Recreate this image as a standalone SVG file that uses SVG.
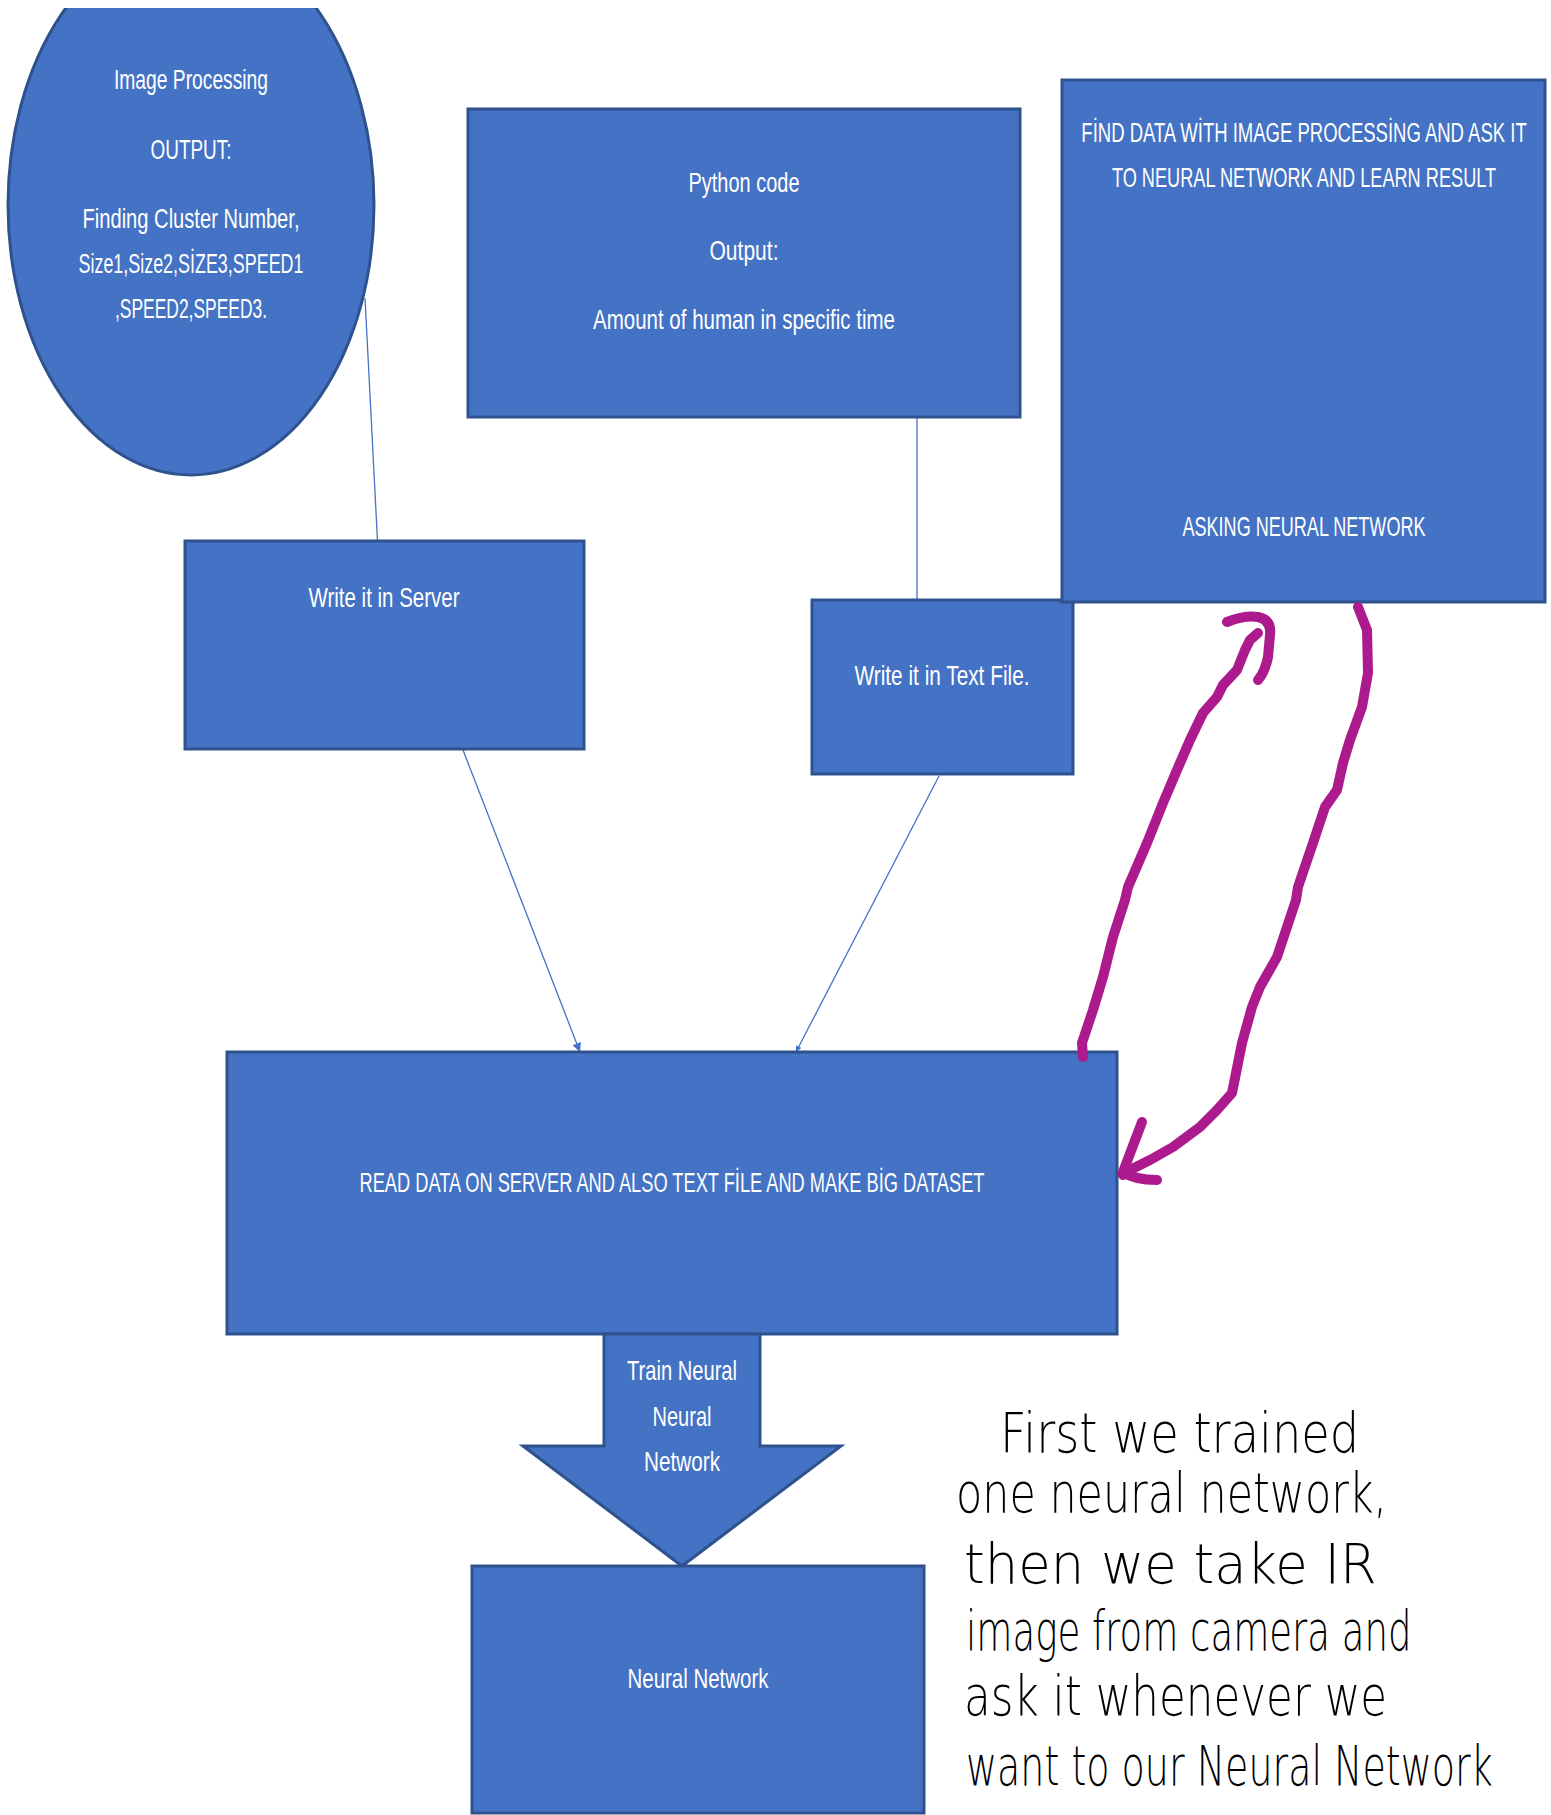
<svg xmlns="http://www.w3.org/2000/svg" width="1551" height="1815" viewBox="0 0 1551 1815">
<style>
.box{fill:#4472C4;stroke:#2F528F;stroke-width:3}
.t{font-family:"Liberation Sans",Arial,sans-serif;font-size:28px;fill:#FFFFFF;text-anchor:middle}
.conn{fill:none;stroke:#4472C4;stroke-width:1.3}
.ink{fill:none;stroke:#AD1A8D;stroke-width:10;stroke-linecap:round;stroke-linejoin:round}
.hw{font-family:"DejaVu Sans","Liberation Sans",sans-serif;font-weight:200;font-size:56px;fill:#000000}
</style>
<defs>
<clipPath id="clipTop"><rect x="0" y="8" width="1551" height="1807"/></clipPath>
<marker id="ah" viewBox="0 0 10 10" refX="10" refY="5" markerWidth="12" markerHeight="9" markerUnits="userSpaceOnUse" orient="auto"><path d="M0,0 L10,5 L0,10 z" fill="#4472C4"/></marker>
<marker id="ahs" viewBox="0 0 10 10" refX="10" refY="5" markerWidth="7" markerHeight="6" markerUnits="userSpaceOnUse" orient="auto"><path d="M0,0 L10,5 L0,10 z" fill="#4472C4"/></marker>
</defs>
<rect x="0" y="0" width="1551" height="1815" fill="#FFFFFF"/>

<g id="connectors">
<line class="conn" x1="365" y1="298" x2="377.5" y2="541"/>
<line class="conn" x1="917" y1="418" x2="917" y2="600"/>
<line class="conn" x1="463" y1="750" x2="580" y2="1052" marker-end="url(#ah)"/>
<line class="conn" x1="939" y1="776" x2="796" y2="1052" marker-end="url(#ahs)"/>
</g>

<g id="image-processing" clip-path="url(#clipTop)">
<ellipse class="box" cx="191" cy="205" rx="183" ry="270"/>
<text class="t" x="191" y="89" textLength="154" lengthAdjust="spacingAndGlyphs">Image Processing</text>
<text class="t" x="191" y="159" textLength="81" lengthAdjust="spacingAndGlyphs">OUTPUT:</text>
<text class="t" x="191" y="228" textLength="217" lengthAdjust="spacingAndGlyphs">Finding Cluster Number,</text>
<text class="t" x="191" y="273" textLength="225" lengthAdjust="spacingAndGlyphs">Size1,Size2,SİZE3,SPEED1</text>
<text class="t" x="191" y="318" textLength="152" lengthAdjust="spacingAndGlyphs">,SPEED2,SPEED3.</text>
</g>

<g id="python-code">
<rect class="box" x="468" y="109" width="552" height="308"/>
<text class="t" x="744" y="192" textLength="111" lengthAdjust="spacingAndGlyphs">Python code</text>
<text class="t" x="744" y="260" textLength="69" lengthAdjust="spacingAndGlyphs">Output:</text>
<text class="t" x="744" y="329" textLength="302" lengthAdjust="spacingAndGlyphs">Amount of human in specific time</text>
</g>

<g id="write-server">
<rect class="box" x="185" y="541" width="399" height="208"/>
<text class="t" x="384" y="607" textLength="151" lengthAdjust="spacingAndGlyphs">Write it in Server</text>
</g>

<g id="write-text-file">
<rect class="box" x="812" y="600" width="261" height="174"/>
<text class="t" x="942" y="685" textLength="175" lengthAdjust="spacingAndGlyphs">Write it in Text File.</text>
</g>

<g id="asking-neural-network">
<rect class="box" x="1062" y="80" width="483" height="522"/>
<text class="t" transform="translate(1304,142) scale(0.661,1)" x="0" y="0">FİND DATA WİTH IMAGE PROCESSİNG AND ASK IT</text>
<text class="t" transform="translate(1304,187) scale(0.649,1)" x="0" y="0">TO NEURAL NETWORK AND LEARN RESULT</text>
<text class="t" transform="translate(1304,536) scale(0.645,1)" x="0" y="0">ASKING NEURAL NETWORK</text>
</g>

<g id="read-data">
<rect class="box" x="227" y="1052" width="890" height="282"/>
<text class="t" x="672" y="1192" textLength="625" lengthAdjust="spacingAndGlyphs">READ DATA ON SERVER AND ALSO TEXT FİLE AND MAKE BİG DATASET</text>
</g>

<g id="train-arrow">
<path class="box" d="M604,1334 L760,1334 L760,1446 L841,1446 L682,1566 L523,1446 L604,1446 Z"/>
<text class="t" x="682" y="1380" textLength="110" lengthAdjust="spacingAndGlyphs">Train Neural</text>
<text class="t" x="682" y="1426" textLength="59" lengthAdjust="spacingAndGlyphs">Neural</text>
<text class="t" x="682" y="1471" textLength="76" lengthAdjust="spacingAndGlyphs">Network</text>
</g>

<g id="neural-network">
<rect class="box" x="472" y="1566" width="452" height="247"/>
<text class="t" x="698" y="1688" textLength="141" lengthAdjust="spacingAndGlyphs">Neural Network</text>
</g>

<g id="ink-arrows">
<polyline class="ink" points="1083,1057 1082,1043 1093,1010 1103,977 1113,937 1125,900 1128,887 1147,843 1163,803 1177,770 1190,740 1203,713 1217,697 1223,685 1237,670 1245,650 1250,640 1258,633"/>
<path class="ink" d="M1227,622 Q1245,615 1258,617 Q1272,620 1270,635 L1268,657 Q1265,672 1258,680"/>
<polyline class="ink" points="1358,607 1367,630 1368,673 1362,707 1350,740 1343,763 1337,790 1325,807 1313,843 1298,887 1296,900 1277,957 1260,987 1252,1007 1242,1043 1232,1093 1217,1110 1200,1127 1173,1147 1150,1160 1130,1170 1123,1175"/>
<path class="ink" d="M1142,1122 L1123,1172 Q1135,1180 1157,1180"/>
</g>

<g id="handwritten-note">
<text class="hw" transform="translate(1000,1452) scale(0.8,1)" x="0" y="0" textLength="449" lengthAdjust="spacingAndGlyphs">First we trained</text>
<text class="hw" transform="translate(956,1512) scale(0.8,1)" x="0" y="0" textLength="539" lengthAdjust="spacingAndGlyphs">one neural network,</text>
<text class="hw" transform="translate(964,1583) scale(0.8,1)" x="0" y="0" textLength="516" lengthAdjust="spacingAndGlyphs">then we take IR</text>
<text class="hw" transform="translate(966,1650) scale(0.8,1)" x="0" y="0" textLength="557" lengthAdjust="spacingAndGlyphs">image from camera and</text>
<text class="hw" transform="translate(964,1715) scale(0.8,1)" x="0" y="0" textLength="529" lengthAdjust="spacingAndGlyphs">ask it whenever we</text>
<text class="hw" transform="translate(966,1785) scale(0.66,1)" x="0" y="0" textLength="798" lengthAdjust="spacingAndGlyphs">want to our Neural Network</text>
</g>
</svg>
